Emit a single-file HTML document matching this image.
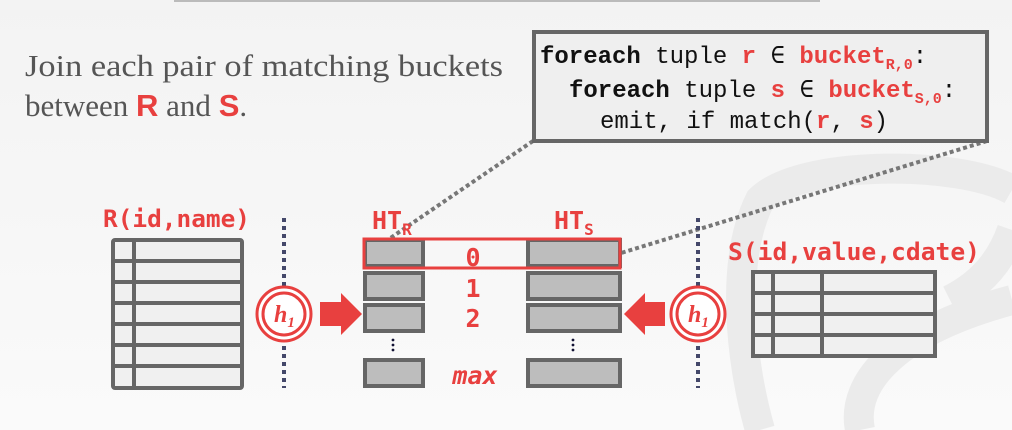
<!DOCTYPE html>
<html><head><meta charset="utf-8"><style>
html,body{margin:0;padding:0;background:#f5f5f5;}
svg{display:block;}
</style></head><body>
<svg width="1012" height="430" viewBox="0 0 1012 430" xmlns="http://www.w3.org/2000/svg">
<defs>
<linearGradient id="bg" x1="0" y1="0" x2="0" y2="1"><stop offset="0" stop-color="#f3f3f3"/><stop offset="1" stop-color="#fafafa"/></linearGradient>
</defs>
<rect width="1012" height="430" fill="url(#bg)"/>
<!-- faint logo -->
<g fill="none" stroke="#ebebeb" stroke-width="30">
<path d="M760 430 C740 360 730 260 760 200 C800 160 960 160 1012 190"/>
<path d="M860 430 C850 380 900 330 1012 300"/>
<path d="M950 300 C990 280 1005 250 1012 230"/>
</g>
<line x1="174" y1="1" x2="820" y2="1" stroke="#bbb" stroke-width="2"/>

<!-- heading text -->
<g font-family="Liberation Serif, serif" font-size="31" fill="#555">
<text x="25" y="76" textLength="478" lengthAdjust="spacingAndGlyphs">Join each pair of matching buckets</text>
<text x="25" y="116">between <tspan font-family="Liberation Sans, sans-serif" font-weight="bold" fill="#e8403f">R</tspan> and <tspan font-family="Liberation Sans, sans-serif" font-weight="bold" fill="#e8403f">S</tspan>.</text>
</g>

<!-- dotted connectors -->
<g stroke="#777" stroke-width="4" stroke-dasharray="4 3">
<line x1="533" y1="141" x2="364" y2="256"/>
<line x1="987" y1="141" x2="621" y2="253"/>
</g>

<!-- code box -->
<rect x="534" y="32" width="453" height="109" fill="#efefef" stroke="#666" stroke-width="4"/>
<g font-family="Liberation Mono, monospace" font-size="24" fill="#111">
<text x="540" y="63"><tspan font-weight="bold">foreach</tspan> tuple <tspan fill="#e8403f" font-weight="bold">r</tspan> ∈ <tspan fill="#e8403f" font-weight="bold">bucket</tspan><tspan fill="#e8403f" font-weight="bold" font-size="15" dy="6">R,0</tspan><tspan dy="-6">:</tspan></text>
<text x="569" y="97"><tspan font-weight="bold">foreach</tspan> tuple <tspan fill="#e8403f" font-weight="bold">s</tspan> ∈ <tspan fill="#e8403f" font-weight="bold">bucket</tspan><tspan fill="#e8403f" font-weight="bold" font-size="15" dy="6">S,0</tspan><tspan dy="-6">:</tspan></text>
<text x="600" y="128">emit, if match(<tspan fill="#e8403f" font-weight="bold">r</tspan>, <tspan fill="#e8403f" font-weight="bold">s</tspan>)</text>
</g>

<!-- labels -->
<g font-family="DejaVu Sans Mono, monospace" font-weight="bold" fill="#e8403f">
<text x="103" y="227" font-size="24" textLength="147" lengthAdjust="spacingAndGlyphs">R(id,name)</text>
<text x="372" y="229" font-size="25">HT<tspan font-size="16" dy="6">R</tspan></text>
<text x="554" y="229" font-size="25">HT<tspan font-size="16" dy="6">S</tspan></text>
<text x="728" y="260" font-size="24" textLength="252" lengthAdjust="spacingAndGlyphs">S(id,value,cdate)</text>
<text x="473" y="266" font-size="25" text-anchor="middle">0</text>
<text x="473" y="297" font-size="25" text-anchor="middle">1</text>
<text x="473" y="327" font-size="25" text-anchor="middle">2</text>
<text x="475" y="384" font-size="25" text-anchor="middle" font-style="italic">max</text>
</g>

<!-- R table -->
<g stroke="#666" stroke-width="4" fill="#f0f0f0">
<rect x="113" y="240" width="129" height="148" rx="2"/>
<line x1="134" y1="240" x2="134" y2="388"/>
<line x1="113" y1="261" x2="242" y2="261"/>
<line x1="113" y1="282" x2="242" y2="282"/>
<line x1="113" y1="303" x2="242" y2="303"/>
<line x1="113" y1="324" x2="242" y2="324"/>
<line x1="113" y1="345" x2="242" y2="345"/>
<line x1="113" y1="366" x2="242" y2="366"/>
</g>
<!-- S table -->
<g stroke="#666" stroke-width="4" fill="#f0f0f0">
<rect x="753" y="272" width="182" height="84"/>
<line x1="773" y1="272" x2="773" y2="356"/>
<line x1="822" y1="272" x2="822" y2="356"/>
<line x1="753" y1="293" x2="935" y2="293"/>
<line x1="753" y1="314" x2="935" y2="314"/>
<line x1="753" y1="335" x2="935" y2="335"/>
</g>

<!-- vertical dotted lines -->
<g stroke="#44486a" stroke-width="4" stroke-dasharray="4 4">
<line x1="284" y1="218" x2="284" y2="388"/>
<line x1="698" y1="218" x2="698" y2="388"/>
</g>

<!-- buckets -->
<g stroke="#666" stroke-width="4" fill="#bdbdbd">
<rect x="365" y="240" width="58" height="26"/>
<rect x="365" y="273" width="58" height="26"/>
<rect x="365" y="305" width="58" height="26"/>
<rect x="365" y="360" width="58" height="26"/>
<rect x="528" y="240" width="92" height="26"/>
<rect x="528" y="273" width="92" height="26"/>
<rect x="528" y="305" width="92" height="26"/>
<rect x="528" y="360" width="92" height="26"/>
</g>
<rect x="364" y="239" width="256" height="29" fill="none" stroke="#e8403f" stroke-width="3"/>
<g fill="#113">
<circle cx="393" cy="340" r="1.4"/><circle cx="393" cy="345" r="1.4"/><circle cx="393" cy="350" r="1.4"/>
<circle cx="573" cy="340" r="1.4"/><circle cx="573" cy="345" r="1.4"/><circle cx="573" cy="350" r="1.4"/>
</g>

<!-- hash circles -->
<g>
<circle cx="284" cy="314" r="27" fill="#fff" stroke="#e8403f" stroke-width="3"/>
<circle cx="284" cy="314" r="21" fill="#fff" stroke="#e8403f" stroke-width="3"/>
<circle cx="698" cy="314" r="27" fill="#fff" stroke="#e8403f" stroke-width="3"/>
<circle cx="698" cy="314" r="21" fill="#fff" stroke="#e8403f" stroke-width="3"/>
<g font-family="Liberation Serif, serif" font-style="italic" font-weight="bold" fill="#e8403f">
<text x="274" y="322" font-size="24">h<tspan font-size="15" dy="5">1</tspan></text>
<text x="688" y="322" font-size="24">h<tspan font-size="15" dy="5">1</tspan></text>
</g>
</g>

<!-- arrows -->
<polygon points="320,302 341,302 341,293 362,314 341,335 341,326 320,326" fill="#e8403f"/>
<polygon points="665,302 645,302 645,293 624,314 645,335 645,326 665,326" fill="#e8403f"/>
</svg>
</body></html>
